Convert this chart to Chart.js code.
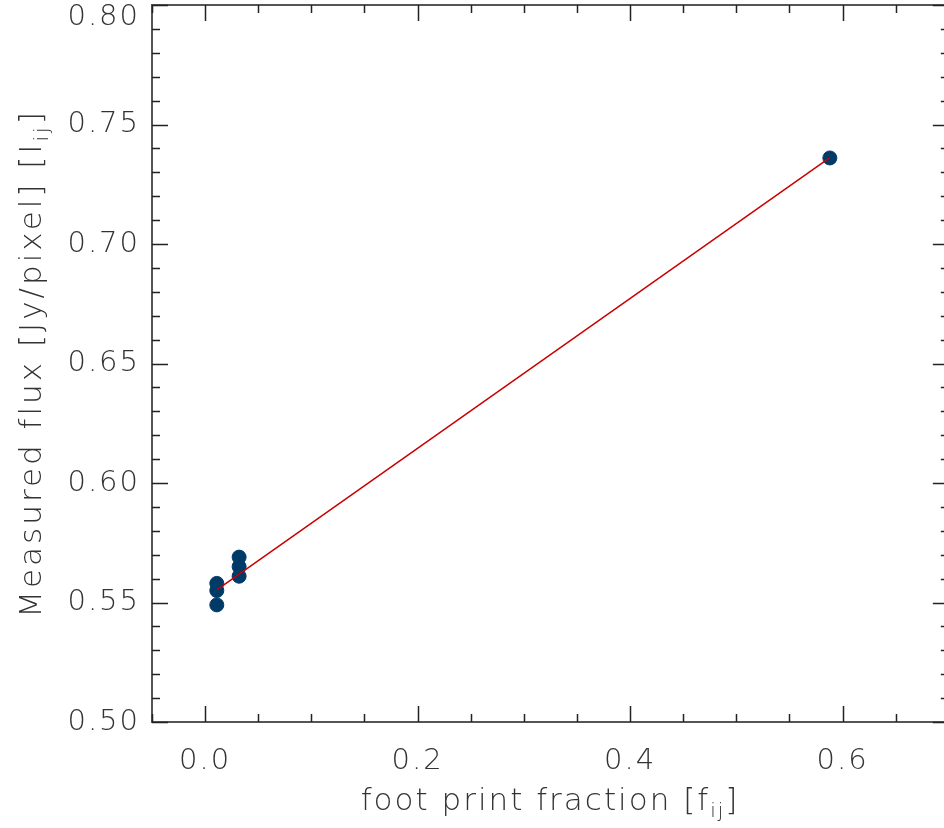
<!DOCTYPE html>
<html>
<head>
<meta charset="utf-8">
<script src="https://cdn.jsdelivr.net/npm/chart.js@4/dist/chart.umd.min.js"></script>
<style>
  html, body { margin: 0; padding: 0; background: #fff; }
  #wrap { width: 944px; height: 828px; }
</style>
</head>
<body>
<div id="wrap"><canvas id="myChart" width="944" height="828"></canvas></div>
<script>
/* data */
const footprint = [0.011, 0.011, 0.011, 0.032, 0.032, 0.032, 0.588];
const flux = [0.558, 0.555, 0.549, 0.569, 0.565, 0.561, 0.736];
// fitted line, its two ends
const fitX = [0.011, 0.588];
const fitY = [0.5553, 0.7361];
// tick labels
const xLabels = ['0.0', '0.2', '0.4', '0.6'];
const yLabels = ['0.50', '0.55', '0.60', '0.65', '0.70', '0.75', '0.80'];

const FAMILY = '"DejaVu Sans ExtraLight", "DejaVu Sans", sans-serif';
const FONT = '200 29px ' + FAMILY;
const TITLEFONT = '200 31px ' + FAMILY;
const SUBFONT = '200 20px ' + FAMILY;

// draws text with subscript parts, centred on x
function drawParts(ctx, parts, x, y) {
  let w = 0;
  parts.forEach(function(p) {
    ctx.font = p.sub ? SUBFONT : TITLEFONT;
    w += ctx.measureText(p.t).width;
  });
  let cx = x - w / 2;
  ctx.textAlign = 'left';
  ctx.textBaseline = 'alphabetic';
  parts.forEach(function(p) {
    ctx.font = p.sub ? SUBFONT : TITLEFONT;
    ctx.fillText(p.t, cx, y + (p.sub ? 7 : 0));
    cx += ctx.measureText(p.t).width;
  });
}

const frame = {
  id: 'frame',
  afterDatasetsDraw(chart) {
    const ctx = chart.ctx;
    const a = chart.chartArea;
    const xs = chart.scales.x, ys = chart.scales.y;
    ctx.save();

    // box (right side runs off the picture)
    ctx.strokeStyle = '#555';
    ctx.lineWidth = 2;
    ctx.beginPath();
    ctx.moveTo(chart.width, a.top);
    ctx.lineTo(a.left, a.top);
    ctx.lineTo(a.left, a.bottom);
    ctx.lineTo(chart.width, a.bottom);
    ctx.stroke();

    // ticks, pointing inward on all four sides
    const rightEdge = xs.getPixelForValue(0.7);
    ctx.strokeStyle = '#222';
    ctx.lineWidth = 1.5;
    ctx.beginPath();
    for (let i = 0; i <= 30; i++) {
      const v = 0.5 + i * 0.01;
      const py = Math.round(ys.getPixelForValue(v)) + 0.5;
      const len = (i % 5 === 0) ? 16 : 8;
      ctx.moveTo(a.left, py); ctx.lineTo(a.left + len, py);
      ctx.moveTo(rightEdge, py); ctx.lineTo(rightEdge - len, py);
    }
    for (let i = -1; i <= 13; i++) {
      const v = i * 0.05;
      const px = Math.round(xs.getPixelForValue(v)) + 0.5;
      const len = (i % 4 === 0) ? 16 : 8;
      ctx.moveTo(px, a.bottom); ctx.lineTo(px, a.bottom - len);
      ctx.moveTo(px, a.top); ctx.lineTo(px, a.top + len);
    }
    ctx.stroke();

    // tick labels
    ctx.fillStyle = '#333';
    ctx.font = FONT;
    ctx.letterSpacing = '2px';
    ctx.textAlign = 'right';
    ctx.textBaseline = 'middle';
    yLabels.forEach(function(lab) {
      let py = ys.getPixelForValue(parseFloat(lab));
      if (py < 17) py = 17;
      ctx.fillText(lab, 140, py);
    });
    ctx.textAlign = 'center';
    xLabels.forEach(function(lab) {
      ctx.fillText(lab, xs.getPixelForValue(parseFloat(lab)), 761);
    });

    // axis titles
    ctx.letterSpacing = '2px';
    drawParts(ctx, [{t: 'foot print fraction [f'}, {t: 'ij', sub: true}, {t: ']'}], 550, 810);
    ctx.letterSpacing = '3px';
    ctx.translate(41, (a.top + a.bottom) / 2);
    ctx.rotate(-Math.PI / 2);
    drawParts(ctx, [{t: 'Measured flux [Jy/pixel] [I'}, {t: 'ij', sub: true}, {t: ']'}], 0, 0);
    ctx.restore();
  }
};

const ctx = document.getElementById('myChart').getContext('2d');
const chart = new Chart(ctx, {
  type: 'scatter',
  data: {
    datasets: [{
      type: 'line',
      label: 'fit',
      data: fitX.map(function(x, i) { return {x: x, y: fitY[i]}; }),
      borderColor: '#c80000',
      borderWidth: 1.5,
      pointRadius: 0,
      fill: false,
      order: 0
    }, {
      label: 'pixels',
      data: footprint.map(function(x, i) { return {x: x, y: flux[i]}; }),
      backgroundColor: '#003b68',
      borderColor: '#003b68',
      pointRadius: 7,
      order: 1
    }]
  },
  options: {
    responsive: false,
    animation: false,
    layout: { autoPadding: false, padding: { left: 0, right: 1, top: 5, bottom: 0 } },
    plugins: { legend: { display: false }, tooltip: { enabled: false } },
    scales: {
      x: {
        type: 'linear', min: -0.05, max: 0.6945,
        grid: { display: false }, border: { display: false },
        ticks: { display: false },
        afterFit: function(s) { s.height = 106; }
      },
      y: {
        type: 'linear', min: 0.5, max: 0.8,
        grid: { display: false }, border: { display: false },
        ticks: { display: false },
        afterFit: function(s) { s.width = 152; }
      }
    }
  },
  plugins: [frame]
});
</script>
</body>
</html>
